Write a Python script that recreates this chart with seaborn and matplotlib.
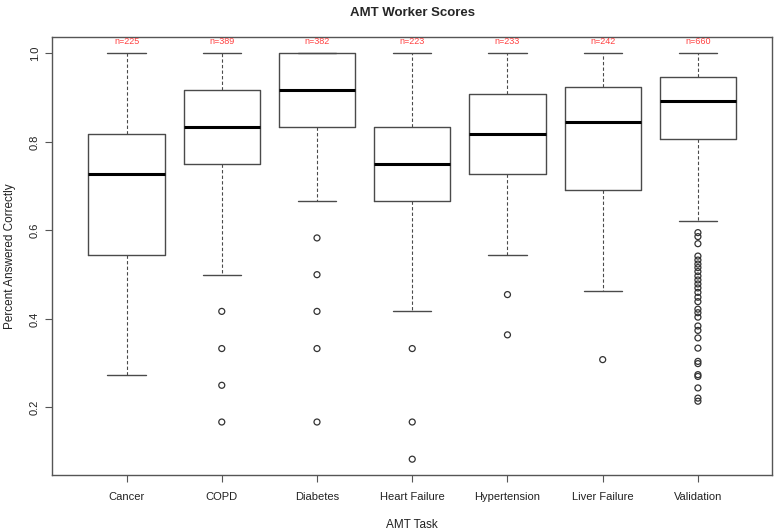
import numpy as np
import pandas as pd
import seaborn as sns
import matplotlib.pyplot as plt

# valores (resumo de cada caixa)
tarefas = ["Cancer", "COPD", "Diabetes", "Heart Failure", "Hypertension", "Liver Failure", "Validation"]
n_tarefas = [225, 389, 382, 223, 233, 242, 660]
bigode_inf = [0.273, 0.500, 0.667, 0.417, 0.545, 0.462, 0.622]
quartil_1 = [0.545, 0.750, 0.833, 0.667, 0.727, 0.692, 0.807]
mediana = [0.727, 0.833, 0.917, 0.750, 0.818, 0.846, 0.893]
quartil_3 = [0.818, 0.917, 1.000, 0.833, 0.909, 0.923, 0.946]
bigode_sup = [1.0, 1.0, 1.0, 1.0, 1.0, 1.0, 1.0]

# outliers de cada tarefa
out_cancer = []
out_copd = [0.417, 0.333, 0.250, 0.167]
out_diabetes = [0.583, 0.500, 0.417, 0.333, 0.167]
out_heart = [0.333, 0.167, 0.083]
out_hyper = [0.455, 0.364]
out_liver = [0.308]
out_valid = [0.595, 0.586, 0.570, 0.542, 0.533, 0.524, 0.516, 0.507, 0.497, 0.488,
             0.479, 0.470, 0.460, 0.449, 0.439, 0.422, 0.414, 0.404, 0.384, 0.374,
             0.357, 0.334, 0.304, 0.299, 0.274, 0.270, 0.244, 0.221, 0.214]

# tabela longa com os 5 pontos do resumo de cada caixa
resumo = pd.DataFrame({
    "tarefa": np.repeat(tarefas, 5),
    "valor": np.column_stack([bigode_inf, quartil_1, mediana, quartil_3, bigode_sup]).ravel(),
})

outliers = [out_cancer, out_copd, out_diabetes, out_heart, out_hyper, out_liver, out_valid]
df_out = pd.DataFrame({
    "tarefa": [t for t, o in zip(tarefas, outliers) for _ in o],
    "valor": [v for o in outliers for v in o],
})

sns.set_style("white")
plt.rcParams['font.family'] = ['Liberation Sans', 'DejaVu Sans']

fig = plt.figure(figsize=(7.8, 5.31), dpi=100)
ax = fig.add_axes([0.067, 0.105, 0.923, 0.825])

cinza = "#4a4a4a"
sns.boxplot(data=resumo, x="tarefa", y="valor", order=tarefas, whis=(0, 100),
            showfliers=False, fill=False, width=0.8, color=cinza, ax=ax,
            boxprops=dict(color=cinza, linewidth=1.0),
            medianprops=dict(color="black", linewidth=2.2),
            whiskerprops=dict(color=cinza, linewidth=0.8, linestyle=(0, (3, 2))),
            capprops=dict(color=cinza, linewidth=1.0))

sns.stripplot(data=df_out, x="tarefa", y="valor", order=tarefas, jitter=False,
              marker="o", size=4.3, facecolor="none", edgecolor="#333333",
              linewidth=0.9, ax=ax)

# contagem de cada grupo em vermelho acima das caixas
for i, n in enumerate(n_tarefas):
    ax.text(i, 1.027, f"n={n}", color="#ff4040", fontsize=6.5, ha="center", va="center")

ax.set_xlim(-0.78, 6.78)
ax.set_ylim(0.0467, 1.0367)
ax.set_yticks([0.2, 0.4, 0.6, 0.8, 1.0])
ax.set_yticklabels(["0.2", "0.4", "0.6", "0.8", "1.0"], rotation=90, va="center")
ax.tick_params(axis="both", direction="out", length=5, width=0.8, color="#555555",
               labelsize=8, labelcolor="#222222", bottom=True, left=True, pad=4)
ax.tick_params(axis="x", pad=7)
for lado in ax.spines.values():
    lado.set_color("#555555")
    lado.set_linewidth(1.0)

ax.set_xlabel("AMT Task", fontsize=8.5, color="#222222", labelpad=12)
ax.set_ylabel("Percent Answered Correctly", fontsize=8.5, color="#222222", labelpad=10)
ax.set_title("AMT Worker Scores", fontsize=9.5, fontweight="bold", pad=15)

plt.savefig("out.png", dpi=100)
